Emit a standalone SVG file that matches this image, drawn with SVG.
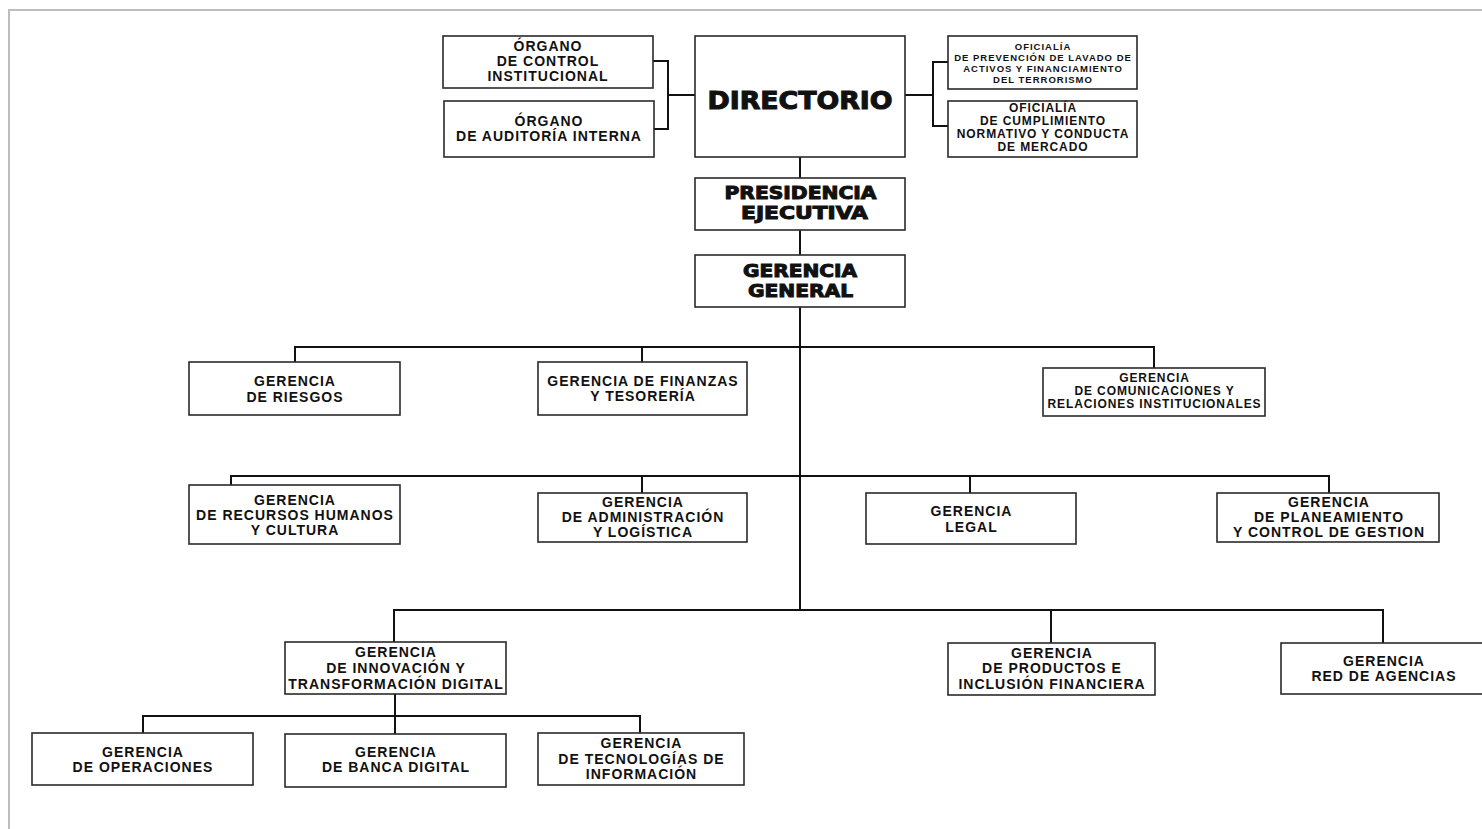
<svg xmlns="http://www.w3.org/2000/svg" width="1482" height="829" viewBox="0 0 1482 829">
<style>
.box{fill:#fff;stroke:#2a2a2a;stroke-width:1.6}
.c{fill:none;stroke:#111;stroke-width:2}
.frame{fill:none;stroke:#bdbdbd;stroke-width:2}
text{font-family:"Liberation Sans",Arial,sans-serif;font-weight:bold;fill:#111;text-anchor:middle}
.t{font-size:14px;letter-spacing:1px}
.m{font-size:12px;letter-spacing:0.9px}
.s{font-size:9.5px;letter-spacing:1px}
.h{font-family:"DejaVu Sans","Liberation Sans",sans-serif;font-size:17px;stroke:#111;stroke-width:1}
.d{font-family:"DejaVu Sans","Liberation Sans",sans-serif;font-size:25px;stroke:#111;stroke-width:1.1}
</style>
<rect x="0" y="0" width="1482" height="829" fill="#fff"/>
<path class="frame" d="M9,829 V10 H1482"/>
<g id="connectors">
<path class="c" d="M653,61 H668 V129 H654"/>
<path class="c" d="M668,95 H695"/>
<path class="c" d="M905,95 H933"/>
<path class="c" d="M948,62 H933 V126 H948"/>
<path class="c" d="M800,157 V178"/>
<path class="c" d="M800,230 V255"/>
<path class="c" d="M800,307 V610"/>
<path class="c" d="M295,362 V347 H1154 V368"/>
<path class="c" d="M642,347 V362"/>
<path class="c" d="M231,485 V476 H1329 V493"/>
<path class="c" d="M642,476 V493"/>
<path class="c" d="M970,476 V493"/>
<path class="c" d="M394,642 V610 H1383 V643"/>
<path class="c" d="M1051,610 V643"/>
<path class="c" d="M395,694 V734"/>
<path class="c" d="M143,733 V716 H640 V733"/>
</g>
<g id="organo-control">
<rect class="box" x="443" y="36" width="210" height="52"/>
<text class="t" x="548" y="51">ÓRGANO</text>
<text class="t" x="548" y="66">DE CONTROL</text>
<text class="t" x="548" y="81">INSTITUCIONAL</text>
</g>
<g id="organo-auditoria">
<rect class="box" x="444" y="101" width="210" height="56"/>
<text class="t" x="549" y="125.5">ÓRGANO</text>
<text class="t" x="549" y="140.5">DE AUDITORÍA INTERNA</text>
</g>
<g id="directorio">
<rect class="box" x="695" y="36" width="210" height="121"/>
<text class="d" x="800" y="109" textLength="185" lengthAdjust="spacingAndGlyphs">DIRECTORIO</text>
</g>
<g id="oficialia-plaft">
<rect class="box" x="948" y="36" width="189" height="53"/>
<text class="s" x="1043" y="49.5">OFICIALÍA</text>
<text class="s" x="1043" y="60.5">DE PREVENCIÓN DE LAVADO DE</text>
<text class="s" x="1043" y="71.5">ACTIVOS Y FINANCIAMIENTO</text>
<text class="s" x="1043" y="82.5">DEL TERRORISMO</text>
</g>
<g id="oficialia-cumplimiento">
<rect class="box" x="948" y="101" width="189" height="56"/>
<text class="m" x="1043" y="112.3">OFICIALÍA</text>
<text class="m" x="1043" y="125.3">DE CUMPLIMIENTO</text>
<text class="m" x="1043" y="138.3">NORMATIVO Y CONDUCTA</text>
<text class="m" x="1043" y="151.3">DE MERCADO</text>
</g>
<g id="presidencia-ejecutiva">
<rect class="box" x="695" y="178" width="210" height="52"/>
<text class="h" x="800.5" y="199" textLength="152" lengthAdjust="spacingAndGlyphs">PRESIDENCIA</text>
<text class="h" x="804.5" y="219" textLength="127" lengthAdjust="spacingAndGlyphs">EJECUTIVA</text>
</g>
<g id="gerencia-general">
<rect class="box" x="695" y="255" width="210" height="52"/>
<text class="h" x="800" y="277" textLength="114" lengthAdjust="spacingAndGlyphs">GERENCIA</text>
<text class="h" x="800.5" y="297" textLength="105" lengthAdjust="spacingAndGlyphs">GENERAL</text>
</g>
<g id="gerencia-riesgos">
<rect class="box" x="189" y="362" width="211" height="53"/>
<text class="t" x="295" y="386">GERENCIA</text>
<text class="t" x="295" y="402">DE RIESGOS</text>
</g>
<g id="gerencia-finanzas">
<rect class="box" x="538" y="362" width="209" height="53"/>
<text class="t" x="643" y="386">GERENCIA DE FINANZAS</text>
<text class="t" x="643" y="401">Y TESORERÍA</text>
</g>
<g id="gerencia-comunicaciones">
<rect class="box" x="1043" y="368" width="222" height="48"/>
<text class="m" x="1154.5" y="382.3">GERENCIA</text>
<text class="m" x="1154.5" y="395.3">DE COMUNICACIONES Y</text>
<text class="m" x="1154.5" y="408.3">RELACIONES INSTITUCIONALES</text>
</g>
<g id="gerencia-rrhh">
<rect class="box" x="189" y="485" width="211" height="59"/>
<text class="t" x="295" y="505">GERENCIA</text>
<text class="t" x="295" y="520">DE RECURSOS HUMANOS</text>
<text class="t" x="295" y="535">Y CULTURA</text>
</g>
<g id="gerencia-administracion">
<rect class="box" x="538" y="493" width="209" height="49"/>
<text class="t" x="643" y="507">GERENCIA</text>
<text class="t" x="643" y="522">DE ADMINISTRACIÓN</text>
<text class="t" x="643" y="537">Y LOGÍSTICA</text>
</g>
<g id="gerencia-legal">
<rect class="box" x="866" y="493" width="210" height="51"/>
<text class="t" x="971.5" y="516">GERENCIA</text>
<text class="t" x="971.5" y="532">LEGAL</text>
</g>
<g id="gerencia-planeamiento">
<rect class="box" x="1217" y="493" width="222" height="49"/>
<text class="t" x="1329" y="507">GERENCIA</text>
<text class="t" x="1329" y="522">DE PLANEAMIENTO</text>
<text class="t" x="1329" y="537">Y CONTROL DE GESTION</text>
</g>
<g id="gerencia-innovacion">
<rect class="box" x="285" y="642" width="221" height="52"/>
<text class="t" x="396" y="657">GERENCIA</text>
<text class="t" x="396" y="673">DE INNOVACIÓN Y</text>
<text class="t" x="396" y="689">TRANSFORMACIÓN DIGITAL</text>
</g>
<g id="gerencia-productos">
<rect class="box" x="948" y="643" width="207" height="52"/>
<text class="t" x="1052" y="658">GERENCIA</text>
<text class="t" x="1052" y="673">DE PRODUCTOS E</text>
<text class="t" x="1052" y="689">INCLUSIÓN FINANCIERA</text>
</g>
<g id="gerencia-red-agencias">
<rect class="box" x="1281" y="643" width="205" height="51"/>
<text class="t" x="1384" y="666">GERENCIA</text>
<text class="t" x="1384" y="681">RED DE AGENCIAS</text>
</g>
<g id="gerencia-operaciones">
<rect class="box" x="32" y="733" width="221" height="52"/>
<text class="t" x="143" y="756.5">GERENCIA</text>
<text class="t" x="143" y="771.5">DE OPERACIONES</text>
</g>
<g id="gerencia-banca-digital">
<rect class="box" x="285" y="734" width="221" height="53"/>
<text class="t" x="396" y="757">GERENCIA</text>
<text class="t" x="396" y="772">DE BANCA DIGITAL</text>
</g>
<g id="gerencia-ti">
<rect class="box" x="538" y="733" width="206" height="52"/>
<text class="t" x="641.5" y="748">GERENCIA</text>
<text class="t" x="641.5" y="764">DE TECNOLOGÍAS DE</text>
<text class="t" x="641.5" y="779">INFORMACIÓN</text>
</g>
</svg>
